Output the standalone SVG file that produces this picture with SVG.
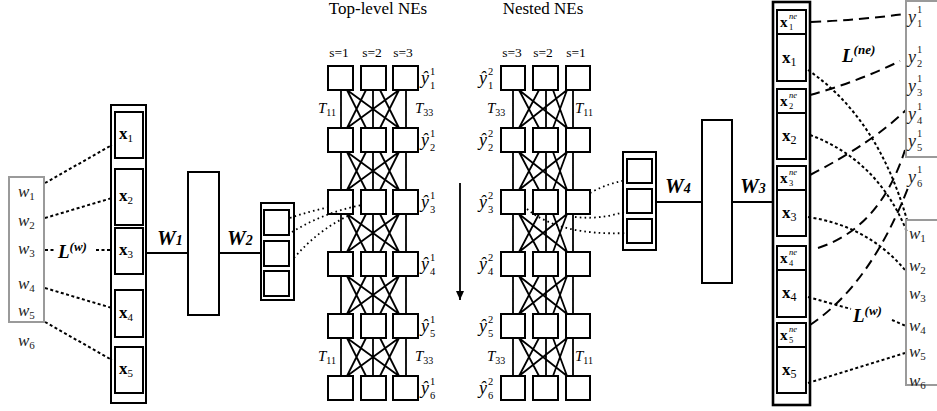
<svg xmlns="http://www.w3.org/2000/svg" width="937" height="411" viewBox="0 0 937 411">
<defs>
<style>
.t{font-family:"Liberation Serif","DejaVu Serif",serif;fill:#000}
.m{font-style:italic}
.u{font-style:normal}
.b{font-weight:bold}
.g{fill:#222}
.box{fill:none;stroke:#000;stroke-width:2}
.frame{fill:none;stroke:#000;stroke-width:2.6}
.gbox{fill:none;stroke:#9a9a9a;stroke-width:2}
.ln{fill:none;stroke:#000;stroke-width:1.8}
.dot{fill:none;stroke:#000;stroke-width:2;stroke-dasharray:3 2.5}
.fdot{fill:none;stroke:#000;stroke-width:1.8;stroke-dasharray:1.6 3.2}
.dash{fill:none;stroke:#000;stroke-width:2;stroke-dasharray:10 6}
.yh{font-size:18px;font-style:italic}
.ss{font-size:10.5px}
</style>
<marker id="arr" markerWidth="10" markerHeight="10" refX="9" refY="5" orient="auto" markerUnits="userSpaceOnUse"><path d="M0,1 L9,5 L0,9 z" fill="#000"/></marker>
<g id="tl" class="ln"><path d="M341,0V38M347,0L366,38M347,0L399,38M366,0L347,38M373,0V38M380,0L399,38M399,0L347,38M399,0L380,38M406,0V38"/></g>
<g id="nl" class="ln"><path d="M513,0V38M519,0L539,38M519,0L567,38M539,0L519,38M546,0V38M553,0L567,38M567,0L519,38M567,0L553,38M573,0V38"/></g>
</defs>
<rect width="937" height="411" fill="#fff"/>

<!-- connectors -->
<g id="connectors">
  <path class="dot" d="M45,183 L112,145"/>
  <path class="dot" d="M45,218 L112,198"/>
  <path class="dot" d="M45,250 L54,250 M96,250 L112,250"/>
  <path class="dot" d="M45,288 L112,308"/>
  <path class="dot" d="M45,322 L112,360"/>
  <path class="ln" d="M147,253 H188 M219,253 H261"/>
  <path class="ln" d="M656,202 H702 M732,202 H773"/>
  <path class="fdot" d="M290,218 Q310,211 330,207"/>
  <path class="fdot" d="M292,232 Q325,212 362,205"/>
  <path class="fdot" d="M294,258 Q318,230 348,216"/>
  <path class="fdot" d="M590,193 Q608,183 627,180"/>
  <path class="fdot" d="M575,217 Q600,220 627,211"/>
  <path class="fdot" d="M527,209 Q560,236 627,233"/>
  <use href="#tl" transform="translate(0,90)"/>
  <use href="#tl" transform="translate(0,152)"/>
  <use href="#tl" transform="translate(0,214)"/>
  <use href="#tl" transform="translate(0,276)"/>
  <use href="#tl" transform="translate(0,338)"/>
  <use href="#nl" transform="translate(0,90)"/>
  <use href="#nl" transform="translate(0,152)"/>
  <use href="#nl" transform="translate(0,214)"/>
  <use href="#nl" transform="translate(0,276)"/>
  <use href="#nl" transform="translate(0,338)"/>
  <path class="ln" d="M460,183 V300" marker-end="url(#arr)"/>
  <path class="dash" d="M811,22 Q860,20 905,14"/>
  <path class="dash" d="M810,95 Q857,82 900,61"/>
  <path class="dash" d="M810,175 Q872,143 906,110"/>
  <path class="dash" d="M818,248 Q880,228 905,150"/>
  <path class="dash" d="M810,325 Q870,285 908,188"/>
  <path class="dot" d="M808,70 Q878,118 907,220"/>
  <path class="dot" d="M810,135 Q878,160 907,232"/>
  <path class="dot" d="M808,217 Q868,226 905,270"/>
  <path class="dot" d="M808,297 L851,309 M892,320 L906,326"/>
  <path class="dot" d="M808,383 L905,353"/>
</g>

<g id="words-left">
  <rect class="gbox" x="9" y="177" width="35" height="145"/>
  <text class="t m g" x="18" y="197" font-size="17">w<tspan class="u" font-size="11" dy="3">1</tspan></text>
  <text class="t m g" x="18" y="226" font-size="17">w<tspan class="u" font-size="11" dy="3">2</tspan></text>
  <text class="t m g" x="18" y="254" font-size="17">w<tspan class="u" font-size="11" dy="3">3</tspan></text>
  <text class="t m g" x="18" y="289" font-size="17">w<tspan class="u" font-size="11" dy="3">4</tspan></text>
  <text class="t m g" x="18" y="316" font-size="17">w<tspan class="u" font-size="11" dy="3">5</tspan></text>
  <text class="t m g" x="18" y="346" font-size="17">w<tspan class="u" font-size="11" dy="3">6</tspan></text>
</g>
<g id="label-Lw-left">
  <text class="t b m" x="58" y="258" font-size="19">L<tspan font-size="13" dy="-7">(w)</tspan></text>
</g>

<g id="x-left">
  <rect class="box" x="111" y="105" width="35" height="298"/>
  <rect class="box" x="115" y="112" width="28" height="46"/>
  <rect class="box" x="115" y="169" width="28" height="56"/>
  <rect class="box" x="115" y="228" width="28" height="46"/>
  <rect class="box" x="115" y="290" width="28" height="47"/>
  <rect class="box" x="115" y="347" width="28" height="46"/>
  <text class="t b" x="119" y="139" font-size="17">x<tspan font-weight="normal" font-size="11" dy="3">1</tspan></text>
  <text class="t b" x="119" y="201" font-size="17">x<tspan font-weight="normal" font-size="11" dy="3">2</tspan></text>
  <text class="t b" x="119" y="255" font-size="17">x<tspan font-weight="normal" font-size="11" dy="3">3</tspan></text>
  <text class="t b" x="119" y="318" font-size="17">x<tspan font-weight="normal" font-size="11" dy="3">4</tspan></text>
  <text class="t b" x="119" y="374" font-size="17">x<tspan font-weight="normal" font-size="11" dy="3">5</tspan></text>
</g>

<g id="W1-layer">
  <text class="t b m" x="157" y="245" font-size="21">W<tspan font-size="14">1</tspan></text>
  <rect class="box" x="188" y="172" width="31" height="143"/>
</g>
<g id="W2-stack">
  <text class="t b m" x="227" y="245" font-size="21">W<tspan font-size="14">2</tspan></text>
  <rect class="box" x="261" y="203" width="33" height="97"/>
  <rect class="box" x="264" y="210" width="25" height="25"/>
  <rect class="box" x="264" y="241" width="25" height="25"/>
  <rect class="box" x="264" y="271" width="25" height="25"/>
</g>

<g id="top-level-header">
  <text class="t" x="378" y="14" font-size="17" text-anchor="middle">Top-level NEs</text>
  <text class="t" x="339" y="57" font-size="13.5" text-anchor="middle">s=1</text>
  <text class="t" x="372" y="57" font-size="13.5" text-anchor="middle">s=2</text>
  <text class="t" x="403" y="57" font-size="13.5" text-anchor="middle">s=3</text>
  <text class="t m" x="318" y="113" font-size="15">T<tspan class="u" font-size="10" dy="3">11</tspan></text>
  <text class="t m" x="415" y="113" font-size="15">T<tspan class="u" font-size="10" dy="3">33</tspan></text>
  <text class="t m" x="318" y="361" font-size="15">T<tspan class="u" font-size="10" dy="3">11</tspan></text>
  <text class="t m" x="415" y="361" font-size="15">T<tspan class="u" font-size="10" dy="3">33</tspan></text>
</g>
<g id="top-row1">
  <rect class="box" x="328" y="66" width="25" height="24"/><rect class="box" x="361" y="66" width="25" height="24"/><rect class="box" x="393" y="66" width="25" height="24"/>
  <text class="t yh" x="421" y="84">ŷ</text><text class="t ss" x="430" y="75">1</text><text class="t ss" x="430" y="89">1</text>
</g>
<g id="top-row2">
  <rect class="box" x="328" y="128" width="25" height="24"/><rect class="box" x="361" y="128" width="25" height="24"/><rect class="box" x="393" y="128" width="25" height="24"/>
  <text class="t yh" x="421" y="146">ŷ</text><text class="t ss" x="430" y="137">1</text><text class="t ss" x="430" y="151">2</text>
</g>
<g id="top-row3">
  <rect class="box" x="328" y="190" width="25" height="24"/><rect class="box" x="361" y="190" width="25" height="24"/><rect class="box" x="393" y="190" width="25" height="24"/>
  <text class="t yh" x="421" y="208">ŷ</text><text class="t ss" x="430" y="199">1</text><text class="t ss" x="430" y="213">3</text>
</g>
<g id="top-row4">
  <rect class="box" x="328" y="252" width="25" height="24"/><rect class="box" x="361" y="252" width="25" height="24"/><rect class="box" x="393" y="252" width="25" height="24"/>
  <text class="t yh" x="421" y="270">ŷ</text><text class="t ss" x="430" y="261">1</text><text class="t ss" x="430" y="275">4</text>
</g>
<g id="top-row5">
  <rect class="box" x="328" y="314" width="25" height="24"/><rect class="box" x="361" y="314" width="25" height="24"/><rect class="box" x="393" y="314" width="25" height="24"/>
  <text class="t yh" x="421" y="332">ŷ</text><text class="t ss" x="430" y="323">1</text><text class="t ss" x="430" y="337">5</text>
</g>
<g id="top-row6">
  <rect class="box" x="328" y="376" width="25" height="24"/><rect class="box" x="361" y="376" width="25" height="24"/><rect class="box" x="393" y="376" width="25" height="24"/>
  <text class="t yh" x="421" y="394">ŷ</text><text class="t ss" x="430" y="385">1</text><text class="t ss" x="430" y="399">6</text>
</g>

<g id="nested-header">
  <text class="t" x="543" y="14" font-size="17" text-anchor="middle">Nested NEs</text>
  <text class="t" x="512" y="57" font-size="13.5" text-anchor="middle">s=3</text>
  <text class="t" x="543" y="57" font-size="13.5" text-anchor="middle">s=2</text>
  <text class="t" x="576" y="57" font-size="13.5" text-anchor="middle">s=1</text>
  <text class="t m" x="487" y="113" font-size="15">T<tspan class="u" font-size="10" dy="3">33</tspan></text>
  <text class="t m" x="575" y="113" font-size="15">T<tspan class="u" font-size="10" dy="3">11</tspan></text>
  <text class="t m" x="487" y="361" font-size="15">T<tspan class="u" font-size="10" dy="3">33</tspan></text>
  <text class="t m" x="575" y="361" font-size="15">T<tspan class="u" font-size="10" dy="3">11</tspan></text>
</g>
<g id="nested-row1">
  <rect class="box" x="501" y="66" width="24" height="24"/><rect class="box" x="533" y="66" width="25" height="24"/><rect class="box" x="566" y="66" width="24" height="24"/>
  <text class="t yh" x="479" y="84">ŷ</text><text class="t ss" x="488" y="75">2</text><text class="t ss" x="488" y="89">1</text>
</g>
<g id="nested-row2">
  <rect class="box" x="501" y="128" width="24" height="24"/><rect class="box" x="533" y="128" width="25" height="24"/><rect class="box" x="566" y="128" width="24" height="24"/>
  <text class="t yh" x="479" y="146">ŷ</text><text class="t ss" x="488" y="137">2</text><text class="t ss" x="488" y="151">2</text>
</g>
<g id="nested-row3">
  <rect class="box" x="501" y="190" width="24" height="24"/><rect class="box" x="533" y="190" width="25" height="24"/><rect class="box" x="566" y="190" width="24" height="24"/>
  <text class="t yh" x="479" y="208">ŷ</text><text class="t ss" x="488" y="199">2</text><text class="t ss" x="488" y="213">3</text>
</g>
<g id="nested-row4">
  <rect class="box" x="501" y="252" width="24" height="24"/><rect class="box" x="533" y="252" width="25" height="24"/><rect class="box" x="566" y="252" width="24" height="24"/>
  <text class="t yh" x="479" y="270">ŷ</text><text class="t ss" x="488" y="261">2</text><text class="t ss" x="488" y="275">4</text>
</g>
<g id="nested-row5">
  <rect class="box" x="501" y="314" width="24" height="24"/><rect class="box" x="533" y="314" width="25" height="24"/><rect class="box" x="566" y="314" width="24" height="24"/>
  <text class="t yh" x="479" y="332">ŷ</text><text class="t ss" x="488" y="323">2</text><text class="t ss" x="488" y="337">5</text>
</g>
<g id="nested-row6">
  <rect class="box" x="501" y="376" width="24" height="24"/><rect class="box" x="533" y="376" width="25" height="24"/><rect class="box" x="566" y="376" width="24" height="24"/>
  <text class="t yh" x="479" y="394">ŷ</text><text class="t ss" x="488" y="385">2</text><text class="t ss" x="488" y="399">6</text>
</g>

<g id="W4-stack">
  <rect class="box" x="623" y="152" width="33" height="98"/>
  <rect class="box" x="627" y="159" width="25" height="24"/>
  <rect class="box" x="627" y="189" width="25" height="24"/>
  <rect class="box" x="627" y="219" width="25" height="24"/>
  <text class="t b m" x="665" y="193" font-size="21">W<tspan font-size="14">4</tspan></text>
</g>
<g id="W3-layer">
  <rect class="box" x="702" y="120" width="30" height="163"/>
  <text class="t b m" x="740" y="193" font-size="21">W<tspan font-size="14">3</tspan></text>
</g>

<g id="x-right">
  <rect class="frame" x="773" y="2" width="37" height="403"/>
  <rect class="box" x="777" y="10" width="29" height="24"/>
  <rect class="box" x="777" y="34" width="29" height="47"/>
  <rect class="box" x="777" y="89" width="29" height="24"/>
  <rect class="box" x="777" y="113" width="29" height="46"/>
  <rect class="box" x="777" y="166" width="29" height="24"/>
  <rect class="box" x="777" y="190" width="29" height="46"/>
  <rect class="box" x="777" y="246" width="29" height="24"/>
  <rect class="box" x="777" y="270" width="29" height="47"/>
  <rect class="box" x="777" y="323" width="29" height="24"/>
  <rect class="box" x="777" y="347" width="29" height="46"/>
  <text class="t b" x="780" y="27" font-size="15">x</text><text class="t m" x="789" y="19" font-size="8.5">ne</text><text class="t" x="789" y="30" font-size="8.5">1</text>
  <text class="t b" x="782" y="63" font-size="17">x<tspan font-weight="normal" font-size="12" dy="3">1</tspan></text>
  <text class="t b" x="780" y="106" font-size="15">x</text><text class="t m" x="789" y="98" font-size="8.5">ne</text><text class="t" x="789" y="109" font-size="8.5">2</text>
  <text class="t b" x="782" y="141" font-size="17">x<tspan font-weight="normal" font-size="12" dy="3">2</tspan></text>
  <text class="t b" x="780" y="183" font-size="15">x</text><text class="t m" x="789" y="175" font-size="8.5">ne</text><text class="t" x="789" y="186" font-size="8.5">3</text>
  <text class="t b" x="782" y="218" font-size="17">x<tspan font-weight="normal" font-size="12" dy="3">3</tspan></text>
  <text class="t b" x="780" y="263" font-size="15">x</text><text class="t m" x="789" y="255" font-size="8.5">ne</text><text class="t" x="789" y="266" font-size="8.5">4</text>
  <text class="t b" x="782" y="298" font-size="17">x<tspan font-weight="normal" font-size="12" dy="3">4</tspan></text>
  <text class="t b" x="780" y="340" font-size="15">x</text><text class="t m" x="789" y="332" font-size="8.5">ne</text><text class="t" x="789" y="343" font-size="8.5">5</text>
  <text class="t b" x="782" y="375" font-size="17">x<tspan font-weight="normal" font-size="12" dy="3">5</tspan></text>
</g>

<g id="label-Lne">
  <text class="t b m" x="842" y="62" font-size="19">L<tspan font-size="13" dy="-8">(ne)</tspan></text>
</g>
<g id="label-Lw-right">
  <text class="t b m" x="853" y="322" font-size="19">L<tspan font-size="13" dy="-7">(w)</tspan></text>
</g>

<g id="y-right">
  <rect class="gbox" x="906" y="1" width="40" height="156"/>
  <text class="t m g" x="908" y="23" font-size="18">y</text><text class="t g ss" x="917" y="13">1</text><text class="t g ss" x="917" y="27">1</text>
  <text class="t m g" x="908" y="63" font-size="18">y</text><text class="t g ss" x="917" y="53">1</text><text class="t g ss" x="917" y="67">2</text>
  <text class="t m g" x="908" y="92" font-size="18">y</text><text class="t g ss" x="917" y="82">1</text><text class="t g ss" x="917" y="96">3</text>
  <text class="t m g" x="908" y="120" font-size="18">y</text><text class="t g ss" x="917" y="110">1</text><text class="t g ss" x="917" y="124">4</text>
  <text class="t m g" x="908" y="147" font-size="18">y</text><text class="t g ss" x="917" y="137">1</text><text class="t g ss" x="917" y="151">5</text>
  <text class="t m g" x="908" y="183" font-size="18">y</text><text class="t g ss" x="917" y="173">1</text><text class="t g ss" x="917" y="187">6</text>
</g>

<g id="words-right">
  <rect class="gbox" x="906" y="220" width="40" height="165"/>
  <text class="t m g" x="909" y="239" font-size="17">w<tspan class="u" font-size="11" dy="3">1</tspan></text>
  <text class="t m g" x="909" y="271" font-size="17">w<tspan class="u" font-size="11" dy="3">2</tspan></text>
  <text class="t m g" x="909" y="299" font-size="17">w<tspan class="u" font-size="11" dy="3">3</tspan></text>
  <text class="t m g" x="909" y="331" font-size="17">w<tspan class="u" font-size="11" dy="3">4</tspan></text>
  <text class="t m g" x="909" y="357" font-size="17">w<tspan class="u" font-size="11" dy="3">5</tspan></text>
  <text class="t m g" x="909" y="386" font-size="17">w<tspan class="u" font-size="11" dy="3">6</tspan></text>
</g>
</svg>
